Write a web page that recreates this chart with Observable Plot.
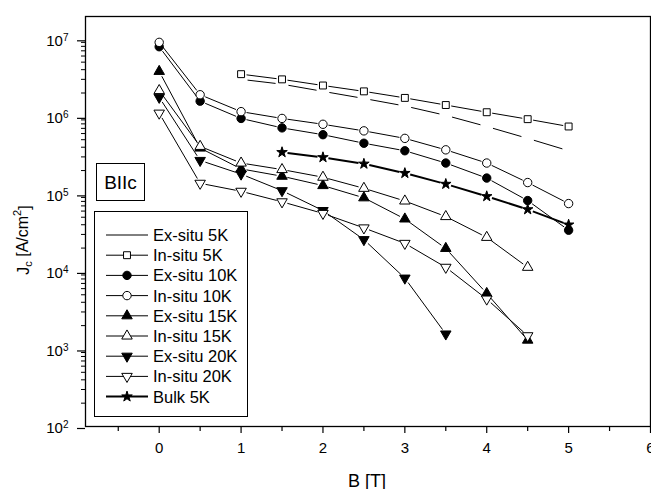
<!DOCTYPE html>
<html><head><meta charset="utf-8">
<script src="https://cdn.jsdelivr.net/npm/d3@7"></script>
<script src="https://cdn.jsdelivr.net/npm/@observablehq/plot@0.6"></script>
<style>
body{margin:0;background:#fff}
#chart{position:relative;width:651px;height:489px;overflow:hidden;background:#fff}
</style>
</head><body><div id="chart"></div>
<script>
// ---- data (B in tesla, Jc in A/cm^2) ----
const B_ex5  = [1, 1.5, 2, 2.5, 3, 3.5, 4, 4.5, 5];
const Jc_ex5 = [3.0e6, 2.6e6, 2.1e6, 1.7e6, 1.36e6, 1.03e6, 7.4e5, 5.2e5, 3.6e5];
const B_in5  = [1, 1.5, 2, 2.5, 3, 3.5, 4, 4.5, 5];
const Jc_in5 = [3.5e6, 3.0e6, 2.5e6, 2.1e6, 1.73e6, 1.4e6, 1.13e6, 9.2e5, 7.4e5];
const B_ex10  = [0, 0.5, 1, 1.5, 2, 2.5, 3, 3.5, 4, 4.5, 5];
const Jc_ex10 = [7.9e6, 1.57e6, 9.4e5, 7.1e5, 5.8e5, 4.5e5, 3.6e5, 2.5e5, 1.6e5, 8.2e4, 3.4e4];
const B_in10  = [0, 0.5, 1, 1.5, 2, 2.5, 3, 3.5, 4, 4.5, 5];
const Jc_in10 = [9.0e6, 1.9e6, 1.15e6, 9.4e5, 7.9e5, 6.5e5, 5.2e5, 3.7e5, 2.5e5, 1.4e5, 7.5e4];
const B_ex15  = [0, 0.5, 1, 1.5, 2, 2.5, 3, 3.5, 4, 4.5];
const Jc_ex15 = [3.8e6, 3.9e5, 2.1e5, 1.69e5, 1.28e5, 8.9e4, 4.75e4, 1.98e4, 5.2e3, 1.3e3];
const B_in15  = [0, 0.5, 1, 1.5, 2, 2.5, 3, 3.5, 4, 4.5];
const Jc_in15 = [2.15e6, 4.1e5, 2.5e5, 2.06e5, 1.64e5, 1.18e5, 8.1e4, 5.1e4, 2.75e4, 1.13e4];
const B_ex20  = [0, 0.5, 1, 1.5, 2, 2.5, 3, 3.5];
const Jc_ex20 = [1.76e6, 2.7e5, 1.8e5, 1.1e5, 6.1e4, 2.57e4, 8.2e3, 1.56e3];
const B_in20  = [0, 0.5, 1, 1.5, 2, 2.5, 3, 3.5, 4, 4.5];
const Jc_in20 = [1.1e6, 1.37e5, 1.08e5, 7.9e4, 5.6e4, 3.64e4, 2.3e4, 1.13e4, 4.4e3, 1.48e3];
const B_bulk  = [1.5, 2, 2.5, 3, 3.5, 4, 4.5, 5];
const Jc_bulk = [3.44e5, 2.96e5, 2.44e5, 1.85e5, 1.34e5, 9.3e4, 6.3e4, 4.0e4];

const seriesNames = ["Ex-situ 5K","In-situ 5K","Ex-situ 10K","In-situ 10K","Ex-situ 15K","In-situ 15K","Ex-situ 20K","In-situ 20K","Bulk 5K"];
const xTicks = [0, 1, 2, 3, 4, 5, 6];
const xMinorTicks = [-0.5, 0.5, 1.5, 2.5, 3.5, 4.5, 5.5];
const yExponents = [2, 3, 4, 5, 6, 7];

// ---- styles ----
const triangleDown = {
  draw(context, size) {
    const s3 = Math.sqrt(3);
    const y = -Math.sqrt(size / (s3 * 3));
    context.moveTo(0, -y * 2);
    context.lineTo(-s3 * y, y);
    context.lineTo(s3 * y, y);
    context.closePath();
  }
};
const styles = [
  {symbol: null, fill: null, r: 0, sw: 1, inset: 6.5},
  {symbol: "square", fill: "white", r: 3.9, sw: 1, inset: 5.5},
  {symbol: "circle", fill: "black", r: 4.2, sw: 1, inset: 5.5},
  {symbol: "circle", fill: "white", r: 4.2, sw: 1, inset: 5.5},
  {symbol: "triangle", fill: "black", r: 3.9, sw: 1, inset: 5.5},
  {symbol: "triangle", fill: "white", r: 3.9, sw: 1, inset: 5.5},
  {symbol: triangleDown, fill: "black", r: 3.9, sw: 1, inset: 5.5},
  {symbol: triangleDown, fill: "white", r: 3.9, sw: 1, inset: 5.5},
  {symbol: "star", fill: "black", r: 3.3, sw: 2, inset: 5.5}
];
const seriesData = [
  [B_ex5, Jc_ex5], [B_in5, Jc_in5], [B_ex10, Jc_ex10], [B_in10, Jc_in10],
  [B_ex15, Jc_ex15], [B_in15, Jc_in15], [B_ex20, Jc_ex20], [B_in20, Jc_in20], [B_bulk, Jc_bulk]
];
const series = seriesData.map(([B, J], i) => ({
  name: seriesNames[i],
  points: B.map((b, k) => ({B: b, Jc: J[k]})),
  ...styles[i]
}));

const yMinor = [];
for (let e = 2; e <= 7; e++) for (let m = 2; m <= 9; m++) { const v = m * 10 ** e; if (v < 1.94e7) yMinor.push(v); }

const marks = [];
series.forEach(s => {
  const segs = d3.pairs(s.points).map(([a, b]) => ({x1: a.B, y1: a.Jc, x2: b.B, y2: b.Jc}));
  marks.push(Plot.arrow(segs, {x1: "x1", y1: "y1", x2: "x2", y2: "y2", headLength: 0,
    insetStart: s.inset, insetEnd: s.inset, stroke: "black", strokeWidth: s.sw, strokeLinecap: "butt"}));
});
series.forEach(s => {
  if (!s.symbol) return;
  marks.push(Plot.dot(s.points, {x: "B", y: "Jc", symbol: () => s.symbol, r: s.r,
    fill: s.fill, stroke: "black", strokeWidth: 1}));
});

const plot = Plot.plot({
  width: 651, height: 489,
  marginLeft: 85, marginRight: 1, marginTop: 16, marginBottom: 63,
  style: {fontFamily: "'Liberation Sans', Arial, sans-serif", fontSize: "15px", background: "white", color: "black", overflow: "hidden"},
  x: {domain: [-0.9, 6], label: null},
  y: {type: "log", domain: [100, 1.94e7], label: null},
  symbol: {type: "identity"},
  marks: [
    Plot.axisX({ticks: xTicks, tickSize: 7, tickPadding: 9, tickFormat: d => String(d), label: null, strokeWidth: 1.2}),
    Plot.axisX({ticks: xMinorTicks, tickSize: 5, text: null, label: null, strokeWidth: 1.2}),
    Plot.axisY({ticks: yExponents.map(e => 10 ** e), tickSize: 8, tickPadding: 9, dy: 2,
      tickFormat: d => "e" + Math.round(Math.log10(d)), label: null, strokeWidth: 1.2}),
    Plot.axisY({ticks: yMinor, tickSize: 4, text: null, label: null, strokeWidth: 1}),
    ...marks,
    Plot.frame({stroke: "black", strokeWidth: 1.3})
  ]
});
document.getElementById("chart").appendChild(plot);

const svg = d3.select(plot);
// superscript tick labels 10^n
svg.selectAll('[aria-label="y-axis tick label"] text').each(function () {
  const s = this.textContent;
  const t = d3.select(this);
  if (!s.startsWith("e")) { t.remove(); return; }
  t.text("10");
  t.append("tspan").attr("dy", "-0.5em").attr("font-size", "10px").text(s.slice(1));
});

// axis titles
const yl = svg.append("text")
  .attr("transform", "translate(29,240) rotate(-90)")
  .attr("text-anchor", "middle").attr("font-size", "16px");
yl.append("tspan").text("J");
yl.append("tspan").attr("font-size", "11px").attr("dy", "0.3em").text("c");
yl.append("tspan").attr("dy", "-0.3em").text(" [A/cm");
yl.append("tspan").attr("font-size", "11px").attr("dy", "-0.55em").text("2");
yl.append("tspan").attr("dy", "0.55em").text("]");

svg.append("text").attr("x", 367).attr("y", 487).attr("text-anchor", "middle")
  .attr("font-size", "18px").text("B [T]");

// BIIc box
svg.append("rect").attr("x", 96.5).attr("y", 163.5).attr("width", 48).attr("height", 37)
  .attr("fill", "white").attr("stroke", "black").attr("stroke-width", 1);
svg.append("text").attr("x", 120.5).attr("y", 182).attr("dy", "0.36em").attr("text-anchor", "middle")
  .attr("font-size", "19px").text("BIIc");

// legend
const lg = svg.append("g");
lg.append("rect").attr("x", 94.5).attr("y", 211.5).attr("width", 153).attr("height", 205)
  .attr("fill", "white").attr("stroke", "black").attr("stroke-width", 1);
series.forEach((s, i) => {
  const cy = 235 + i * 20.2;
  lg.append("line").attr("x1", 106).attr("x2", 148).attr("y1", cy).attr("y2", cy)
    .attr("stroke", "black").attr("stroke-width", s.sw);
  if (s.symbol) {
    const type = typeof s.symbol === "string"
      ? {square: d3.symbolSquare, circle: d3.symbolCircle, triangle: d3.symbolTriangle, star: d3.symbolStar}[s.symbol]
      : s.symbol;
    lg.append("path").attr("transform", `translate(127,${cy})`)
      .attr("d", d3.symbol(type, s.r * s.r * Math.PI)())
      .attr("fill", s.fill).attr("stroke", "black").attr("stroke-width", 1);
  }
  lg.append("text").attr("x", 153).attr("y", cy).attr("dy", "0.36em").attr("text-anchor", "start")
    .attr("font-size", "16.5px").text(s.name);
});
</script>
</body></html>
